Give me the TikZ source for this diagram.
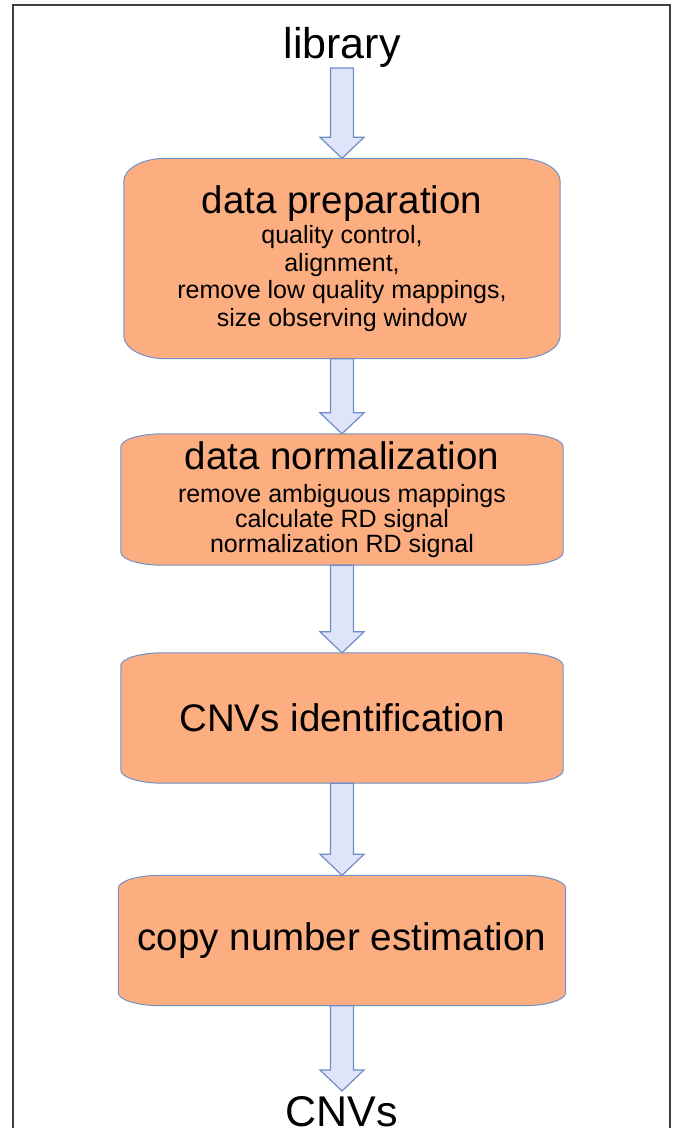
\documentclass[tikz,border=0pt]{standalone}
\usepackage{fontspec}
\setmainfont{Liberation Sans}
\usetikzlibrary{calc}
\usetikzlibrary{backgrounds}

\definecolor{boxfill}{RGB}{252,174,128}
\definecolor{boxline}{RGB}{114,146,200}
\definecolor{arrowfill}{RGB}{224,228,248}
\definecolor{arrowline}{RGB}{110,140,200}
\definecolor{frameline}{RGB}{64,64,64}

\newcommand{\headfont}{\fontsize{38.5}{44}\selectfont}
\newcommand{\subfont}{\fontsize{25}{27.5}\selectfont}
\newcommand{\labelfont}{\fontsize{43}{48}\selectfont}

\tikzset{
  stage/.style={rectangle, inner sep=0pt, align=center,
    minimum width=442pt, minimum height=130pt},
  bigarrow/.style={draw=arrowline, fill=arrowfill, line width=1.2pt,
    to path={let \p1=(\tikztostart), \p2=(\tikztotarget) in
      (\x2-11.5pt,\y1) -- (\x2+11.5pt,\y1) -- (\x2+11.5pt,\y2+21pt)
      -- (\x2+22pt,\y2+21pt) -- (\x2,\y2) -- (\x2-22pt,\y2+21pt)
      -- (\x2-11.5pt,\y2+21pt) -- cycle}}
}

\begin{document}
\begin{tikzpicture}[x=1pt,y=1pt]
\useasboundingbox (0,0) rectangle (673,-1128);
\draw [frameline, line width=1.5pt] (13,-1128) -- (13,-5) -- (670,-5) -- (670,-1128);

\node (lib) at (342,-68) [anchor=south, inner sep=0pt, font=\labelfont] {library};

\node (prep) at (342,-258.5) [stage, minimum width=436pt, minimum height=200pt, font=\subfont]
  {{\headfont data preparation}\\[3pt]
   quality control,\\ alignment,\\ remove low quality mappings,\\
   size observing window};
\node (norm) at (342,-499.5) [stage, minimum height=131pt,
    font=\fontsize{25}{25}\selectfont]
  {{\headfont data normalization}\\[8pt]
   remove ambiguous mappings\\ calculate RD signal\\
   normalization RD signal};
\node (ident) at (342,-718) [stage, font=\headfont] {CNVs identification};
\node (est) at (342,-940.5) [stage, minimum width=447pt, font=\headfont] {copy number estimation};

\node (cnv) at (342,-1091) [anchor=north, inner xsep=0pt, inner ysep=5pt, font=\labelfont] {CNVs};

% rounded boxes behind the text
\begin{pgfonlayer}{background}
\foreach \n/\ry in {prep/23,norm/13,ident/13,est/13}
  \draw [boxline, fill=boxfill, line width=1pt]
    ([yshift=\ry pt]\n.south west) -- ([yshift=-\ry pt]\n.north west)
    arc [start angle=180, end angle=90, x radius=42pt, y radius=\ry pt]
    -- ([xshift=-42pt]\n.north east)
    arc [start angle=90, end angle=0, x radius=42pt, y radius=\ry pt]
    -- ([yshift=\ry pt]\n.south east)
    arc [start angle=0, end angle=-90, x radius=42pt, y radius=\ry pt]
    -- ([xshift=42pt]\n.south west)
    arc [start angle=270, end angle=180, x radius=42pt, y radius=\ry pt]
    -- cycle;
\end{pgfonlayer}

\draw [bigarrow] (lib.south) to (prep.north);
\draw [bigarrow] (prep.south) to (norm.north);
\draw [bigarrow] (norm.south) to (ident.north);
\draw [bigarrow] (ident.south) to (est.north);
\draw [bigarrow] (est.south) to (cnv.north);
\end{tikzpicture}
\end{document}
